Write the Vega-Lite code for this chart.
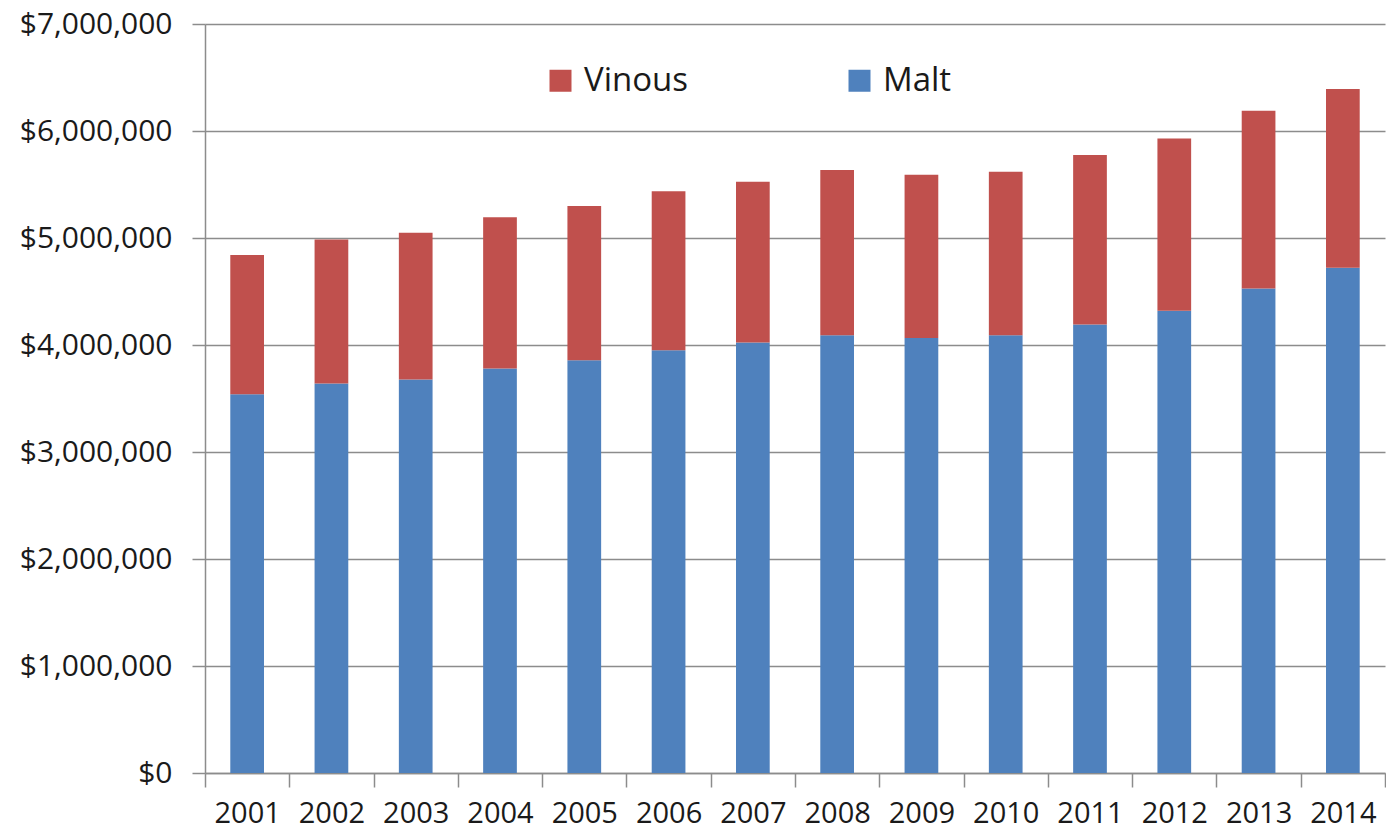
{
  "$schema": "https://vega.github.io/schema/vega-lite/v6.json",
  "autosize": "none",
  "width": 1180,
  "height": 749,
  "padding": {"left": 205, "top": 24, "right": 1, "bottom": 61},
  "background": "white",
  "config": {
    "view": {"stroke": null},
    "font": "Open Sans"
  },
  "data": {
    "values": [
      {"year": "2001", "type": "Malt", "value": 3540000},
      {"year": "2001", "type": "Vinous", "value": 1300000},
      {"year": "2002", "type": "Malt", "value": 3640000},
      {"year": "2002", "type": "Vinous", "value": 1346000},
      {"year": "2003", "type": "Malt", "value": 3677000},
      {"year": "2003", "type": "Vinous", "value": 1371000},
      {"year": "2004", "type": "Malt", "value": 3780000},
      {"year": "2004", "type": "Vinous", "value": 1415000},
      {"year": "2005", "type": "Malt", "value": 3858000},
      {"year": "2005", "type": "Vinous", "value": 1440000},
      {"year": "2006", "type": "Malt", "value": 3951000},
      {"year": "2006", "type": "Vinous", "value": 1487000},
      {"year": "2007", "type": "Malt", "value": 4023000},
      {"year": "2007", "type": "Vinous", "value": 1502000},
      {"year": "2008", "type": "Malt", "value": 4092000},
      {"year": "2008", "type": "Vinous", "value": 1543000},
      {"year": "2009", "type": "Malt", "value": 4066000},
      {"year": "2009", "type": "Vinous", "value": 1525000},
      {"year": "2010", "type": "Malt", "value": 4092000},
      {"year": "2010", "type": "Vinous", "value": 1527000},
      {"year": "2011", "type": "Malt", "value": 4192000},
      {"year": "2011", "type": "Vinous", "value": 1583000},
      {"year": "2012", "type": "Malt", "value": 4319000},
      {"year": "2012", "type": "Vinous", "value": 1612000},
      {"year": "2013", "type": "Malt", "value": 4528000},
      {"year": "2013", "type": "Vinous", "value": 1661000},
      {"year": "2014", "type": "Malt", "value": 4721000},
      {"year": "2014", "type": "Vinous", "value": 1671000}
    ]
  },
  "mark": {"type": "bar", "width": {"band": 0.4}},
  "encoding": {
    "x": {
      "field": "year",
      "type": "ordinal",
      "scale": {"paddingInner": 0, "paddingOuter": 0},
      "axis": {
        "title": null,
        "labelAngle": 0,
        "labelFont": "Open Sans",
        "labelFontSize": 29,
        "labelColor": "#1a1a1a",
        "labelPadding": 12,
        "tickBand": "extent",
        "tickSize": 14,
        "tickColor": "#8c8c8c",
        "tickWidth": 1.5,
        "domainColor": "#8c8c8c",
        "domainWidth": 1.5,
        "grid": false
      }
    },
    "y": {
      "field": "value",
      "type": "quantitative",
      "aggregate": "sum",
      "stack": "zero",
      "scale": {"domain": [0, 7000000], "nice": false},
      "axis": {
        "title": null,
        "values": [0, 1000000, 2000000, 3000000, 4000000, 5000000, 6000000, 7000000],
        "format": "$,.0f",
        "labelFont": "Open Sans",
        "labelFontSize": 30,
        "labelColor": "#1a1a1a",
        "labelPadding": 20,
        "tickSize": 13,
        "tickColor": "#8c8c8c",
        "tickWidth": 1.5,
        "domainColor": "#8c8c8c",
        "domainWidth": 1.5,
        "grid": true,
        "gridColor": "#8c8c8c",
        "gridWidth": 1.5
      }
    },
    "order": {"field": "type", "sort": "ascending"},
    "color": {
      "field": "type",
      "type": "nominal",
      "scale": {"domain": ["Vinous", "Malt"], "range": ["#C0504D", "#4F81BD"]},
      "legend": {
        "title": null,
        "orient": "none",
        "legendX": 339,
        "legendY": 40,
        "direction": "horizontal",
        "symbolType": "square",
        "symbolSize": 484,
        "symbolStrokeWidth": 0,
        "symbolOpacity": 1,
        "labelFont": "Open Sans",
        "labelFontSize": 33,
        "labelColor": "#1a1a1a",
        "labelOffset": 7,
        "columnPadding": 154
      }
    }
  }
}
